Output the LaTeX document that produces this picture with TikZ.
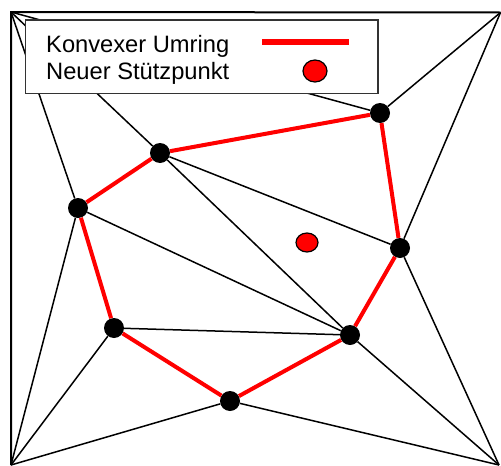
\documentclass[tikz,border=0pt]{standalone}
\usepackage{fontspec}
\setmainfont{Liberation Sans}
\usetikzlibrary{shapes.geometric}
\begin{document}
\begin{tikzpicture}[x=1pt,y=-1pt,
  dot/.style={circle,fill=black,inner sep=0pt,minimum size=20pt},
  newpt/.style={ellipse,draw=black,line width=1.2pt,fill=red,inner sep=0pt,minimum width=22pt,minimum height=19pt},
  edge/.style={line width=1.5pt,black},
  hull/.style={line width=4pt,red},
  frame/.style={line width=2pt,black},
  legendbox/.style={draw=black!80,line width=1.6pt,fill=white},
  legtext/.style={anchor=base west,inner sep=0pt,font=\fontsize{23.7}{26.5}\selectfont}
]
\useasboundingbox (0,0) rectangle (501,466);
% corners
\coordinate (TL) at (11,12);
\coordinate (TR) at (500.5,12.5);
\coordinate (BL) at (11,465);
\coordinate (BR) at (499,465);
% hull points
\node[dot] (P1) at (160,153) {};
\node[dot] (P2) at (380,113) {};
\node[dot] (P3) at (400,248) {};
\node[dot] (P4) at (350,335) {};
\node[dot] (P5) at (230,401) {};
\node[dot] (P6) at (114,328) {};
\node[dot] (P7) at (78,208) {};
\node[newpt] (N) at (307,242.5) {};
% frame
\draw[frame] (BL) -- (TL) -- (TR);
% triangulation edges
\draw[edge] (TL) -- (P2);
\draw[edge] (TL) -- (P1);
\draw[edge] (TL) -- (P7);
\draw[edge] (TR) -- (P2);
\draw[edge] (TR) -- (P3);
\draw[edge] (BL) -- (P7);
\draw[edge] (BL) -- (P6);
\draw[edge] (BL) -- (P5);
\draw[edge] (BR) -- (P5);
\draw[edge] (BR) -- (P4);
\draw[edge] (BR) -- (P3);
\draw[edge] (P1) -- (P3);
\draw[edge] (P1) -- (P4);
\draw[edge] (P7) -- (P4);
\draw[edge] (P6) -- (P4);
% convex hull
\draw[hull] (P1) -- (P2);
\draw[hull] (P2) -- (P3);
\draw[hull] (P3) -- (P4);
\draw[hull] (P4) -- (P5);
\draw[hull] (P5) -- (P6);
\draw[hull] (P6) -- (P7);
\draw[hull] (P7) -- (P1);
% legend
\node[legendbox,minimum width=352.5pt,minimum height=73.5pt,anchor=north west,inner sep=0pt] (L) at (24.5,19) {};
\node[legtext] (L1) at (46,52.8) {Konvexer Umring};
\node[legtext] (L2) at (46,79) {Neuer Stützpunkt};
\coordinate (La) at (262,42);
\coordinate (Lb) at (349,42);
\draw[red,line width=5.7pt] (La) -- (Lb);
\node[newpt,minimum width=24pt,minimum height=22pt] (LN) at (315,71) {};
\end{tikzpicture}
\end{document}
